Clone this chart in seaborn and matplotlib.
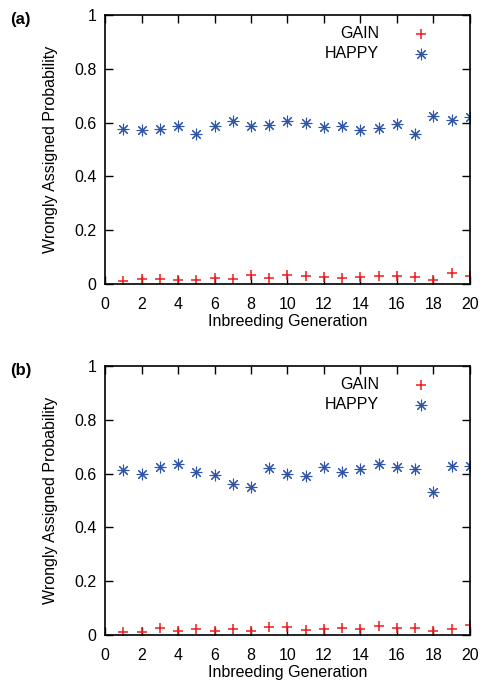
import pandas as pd
import matplotlib
matplotlib.use("Agg")
import matplotlib.pyplot as plt
import seaborn as sns

# generations on the x axis
generations = list(range(1, 21))

# panel (a)
gain_a = [0.010, 0.020, 0.019, 0.015, 0.014, 0.022, 0.019, 0.033, 0.024, 0.032,
          0.031, 0.025, 0.021, 0.027, 0.030, 0.028, 0.027, 0.014, 0.041, 0.028]
happy_a = [0.575, 0.574, 0.577, 0.588, 0.558, 0.587, 0.608, 0.587, 0.590, 0.608,
           0.598, 0.584, 0.588, 0.571, 0.579, 0.595, 0.558, 0.625, 0.611, 0.620]

# panel (b)
gain_b = [0.010, 0.011, 0.026, 0.016, 0.021, 0.016, 0.021, 0.014, 0.031, 0.030,
          0.017, 0.021, 0.027, 0.021, 0.033, 0.026, 0.028, 0.016, 0.021, 0.036]
happy_b = [0.615, 0.600, 0.625, 0.636, 0.605, 0.595, 0.561, 0.550, 0.620, 0.600,
           0.592, 0.625, 0.608, 0.618, 0.636, 0.623, 0.619, 0.532, 0.630, 0.627]

xticks = list(range(0, 21, 2))
yticks = [0, 0.2, 0.4, 0.6, 0.8, 1]
ytick_labels = ["0", "0.2", "0.4", "0.6", "0.8", "1"]
panels = [("a", gain_a, happy_a), ("b", gain_b, happy_b)]

sns.set_theme(style="ticks")
plt.rcParams["font.family"] = ["Liberation Sans", "DejaVu Sans"]
plt.rcParams["text.color"] = "black"
plt.rcParams["axes.labelcolor"] = "black"

fig = plt.figure(figsize=(4.84, 6.86), dpi=100)
ax_pos = [[0.217, 0.586, 0.754, 0.392], [0.217, 0.0743, 0.754, 0.392]]

for pos, (tag, gain, happy) in zip(ax_pos, panels):
    ax = fig.add_axes(pos)
    df = pd.DataFrame({"gen": generations, "GAIN": gain, "HAPPY": happy})

    sns.scatterplot(data=df, x="gen", y="GAIN", ax=ax, marker="+", color="#ee1c1c",
                    s=55, linewidth=1.1, label="GAIN")
    sns.scatterplot(data=df, x="gen", y="HAPPY", ax=ax, marker=(8, 2, 0), color="#2f55a8",
                    s=60, linewidth=0.8, label="HAPPY")

    ax.set_xlim(0, 20)
    ax.set_ylim(0, 1)
    ax.set_xticks(xticks)
    ax.set_yticks(yticks)
    ax.set_yticklabels(ytick_labels)
    ax.tick_params(direction="in", length=6, width=1, top=True, right=True,
                   labelsize=11.5, colors="black", pad=6)
    ax.tick_params(axis="x", pad=9)
    for sp in ax.spines.values():
        sp.set_linewidth(1.2)
        sp.set_color("black")
    ax.set_xlabel("Inbreeding Generation", fontsize=11.5, labelpad=2)
    ax.set_ylabel("Wrongly Assigned Probability", fontsize=11.5, labelpad=12)

    ax.legend(loc="upper right", bbox_to_anchor=(0.935, 0.995), frameon=False,
              markerfirst=False, fontsize=11.5, handletextpad=1.6,
              labelspacing=0.3, borderaxespad=0.2)

    # panel tag like "(a)"
    fig.text(0.02, pos[1] + pos[3] + 0.005, "(" + tag + ")", fontsize=12,
             fontweight="bold", va="top", ha="left")

fig.savefig("out.png", dpi=100)
